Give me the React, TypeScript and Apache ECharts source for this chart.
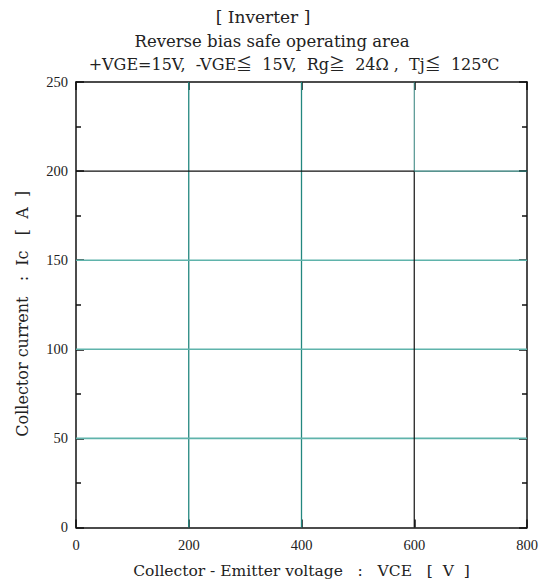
import React, { useEffect, useRef } from "react";
import * as echarts from "echarts";

const titleLines = [
  "[ Inverter ]",
  "Reverse bias safe operating area",
  "+VGE=15V,  -VGE≦  15V,  Rg≧  24Ω ,  Tj≦  125℃",
];
const xName = "Collector - Emitter voltage   :   VCE   [  V  ]";
const yName = "Collector current   :  Ic   [  A  ]";

const xMin = 0, xMax = 800, xStep = 200;
const yMin = 0, yMax = 250, yStep = 50;

// grid-like lines as drawn in the reference
const tealVerticals = [200, 400];
const tealHorizontals = [50, 100, 150];
const blackVertical = { x: 600, from: 0, to: 200 };
const blackVerticalTop = { x: 600, from: 200, to: 250 };
const blackHorizontal = { y: 200, from: 0, to: 600 };
const tealHorizontalRight = { y: 200, from: 600, to: 800 };

const TXT = "'DejaVu Serif', 'Noto Sans CJK JP', serif";
const SERIF = "'Liberation Serif', 'DejaVu Serif', serif";

function seg(data: number[][], color: string, width: number, z = 2) {
  return {
    type: "line",
    data,
    showSymbol: false,
    silent: true,
    lineStyle: { color, width },
    z,
  };
}

export default function App() {
  const ref = useRef<HTMLDivElement>(null);
  useEffect(() => {
    if (!ref.current) return;
    const chart = echarts.init(ref.current, null, { renderer: "svg" });
    const series: any[] = [];
    tealVerticals.forEach((x) => series.push(seg([[x, yMin], [x, yMax]], "#23877f", 1.3)));
    tealHorizontals.forEach((y) => series.push(seg([[xMin, y], [xMax, y]], "#5fb3ab", 1.6)));
    series.push(seg([[blackVertical.x, blackVertical.from], [blackVertical.x, blackVertical.to]], "#111", 1.2));
    series.push(seg([[blackVerticalTop.x, blackVerticalTop.from], [blackVerticalTop.x, blackVerticalTop.to]], "#2f7f79", 1));
    series.push(seg([[blackHorizontal.from, blackHorizontal.y], [blackHorizontal.to, blackHorizontal.y]], "#111", 1.2));
    series.push(seg([[tealHorizontalRight.from, tealHorizontalRight.y], [tealHorizontalRight.to, tealHorizontalRight.y]], "#1f6f6a", 1.2));

    const axisCommon = {
      type: "value",
      splitLine: { show: false },
      axisLine: { show: true, onZero: false, lineStyle: { color: "#111", width: 1.5 } },
    };
    const tick = { show: true, inside: true, length: 8, lineStyle: { color: "#111", width: 1.5 } };
    const minor = { show: true, splitNumber: 2, length: 5, lineStyle: { color: "#111", width: 1.5 } };
    chart.setOption({
      animation: false,
      backgroundColor: "#fff",
      grid: { left: 76, right: 24, top: 82, bottom: 41 },
      graphic: [
        { type: "text", x: 263, y: 17, style: { text: titleLines[0], font: `17px ${TXT}`, fill: "#222", textAlign: "center", textVerticalAlign: "middle" } },
        { type: "text", x: 272, y: 41, style: { text: titleLines[1], font: `16.5px ${TXT}`, fill: "#222", textAlign: "center", textVerticalAlign: "middle" } },
        { type: "text", x: 294, y: 64, style: { text: titleLines[2], font: `16px ${TXT}`, fill: "#222", textAlign: "center", textVerticalAlign: "middle" } },
      ],
      xAxis: [
        {
          ...axisCommon,
          min: xMin,
          max: xMax,
          interval: xStep,
          position: "bottom",
          name: xName,
          nameLocation: "middle",
          nameGap: 36,
          nameTextStyle: { fontFamily: TXT, fontSize: 15.5, color: "#222" },
          axisTick: tick,
          axisLabel: { fontFamily: SERIF, fontSize: 14.5, color: "#222", margin: 10 },
        },
        {
          ...axisCommon,
          min: xMin,
          max: xMax,
          interval: xStep,
          position: "top",
          axisTick: tick,
          axisLabel: { show: false },
        },
      ],
      yAxis: [
        {
          ...axisCommon,
          min: yMin,
          max: yMax,
          interval: yStep,
          position: "left",
          name: yName,
          nameLocation: "middle",
          nameGap: 46,
          nameTextStyle: { fontFamily: TXT, fontSize: 16, color: "#222", padding: [0, 18, 0, 0] },
          axisTick: tick,
          minorTick: minor,
          axisLabel: { fontFamily: SERIF, fontSize: 14.5, color: "#222", margin: 8 },
        },
        {
          ...axisCommon,
          min: yMin,
          max: yMax,
          interval: yStep,
          position: "right",
          axisTick: tick,
          minorTick: minor,
          axisLabel: { show: false },
        },
      ],
      series,
    });
    return () => chart.dispose();
  }, []);
  return <div ref={ref} style={{ position: "fixed", left: 0, top: 0, width: 551, height: 584 }} />;
}
